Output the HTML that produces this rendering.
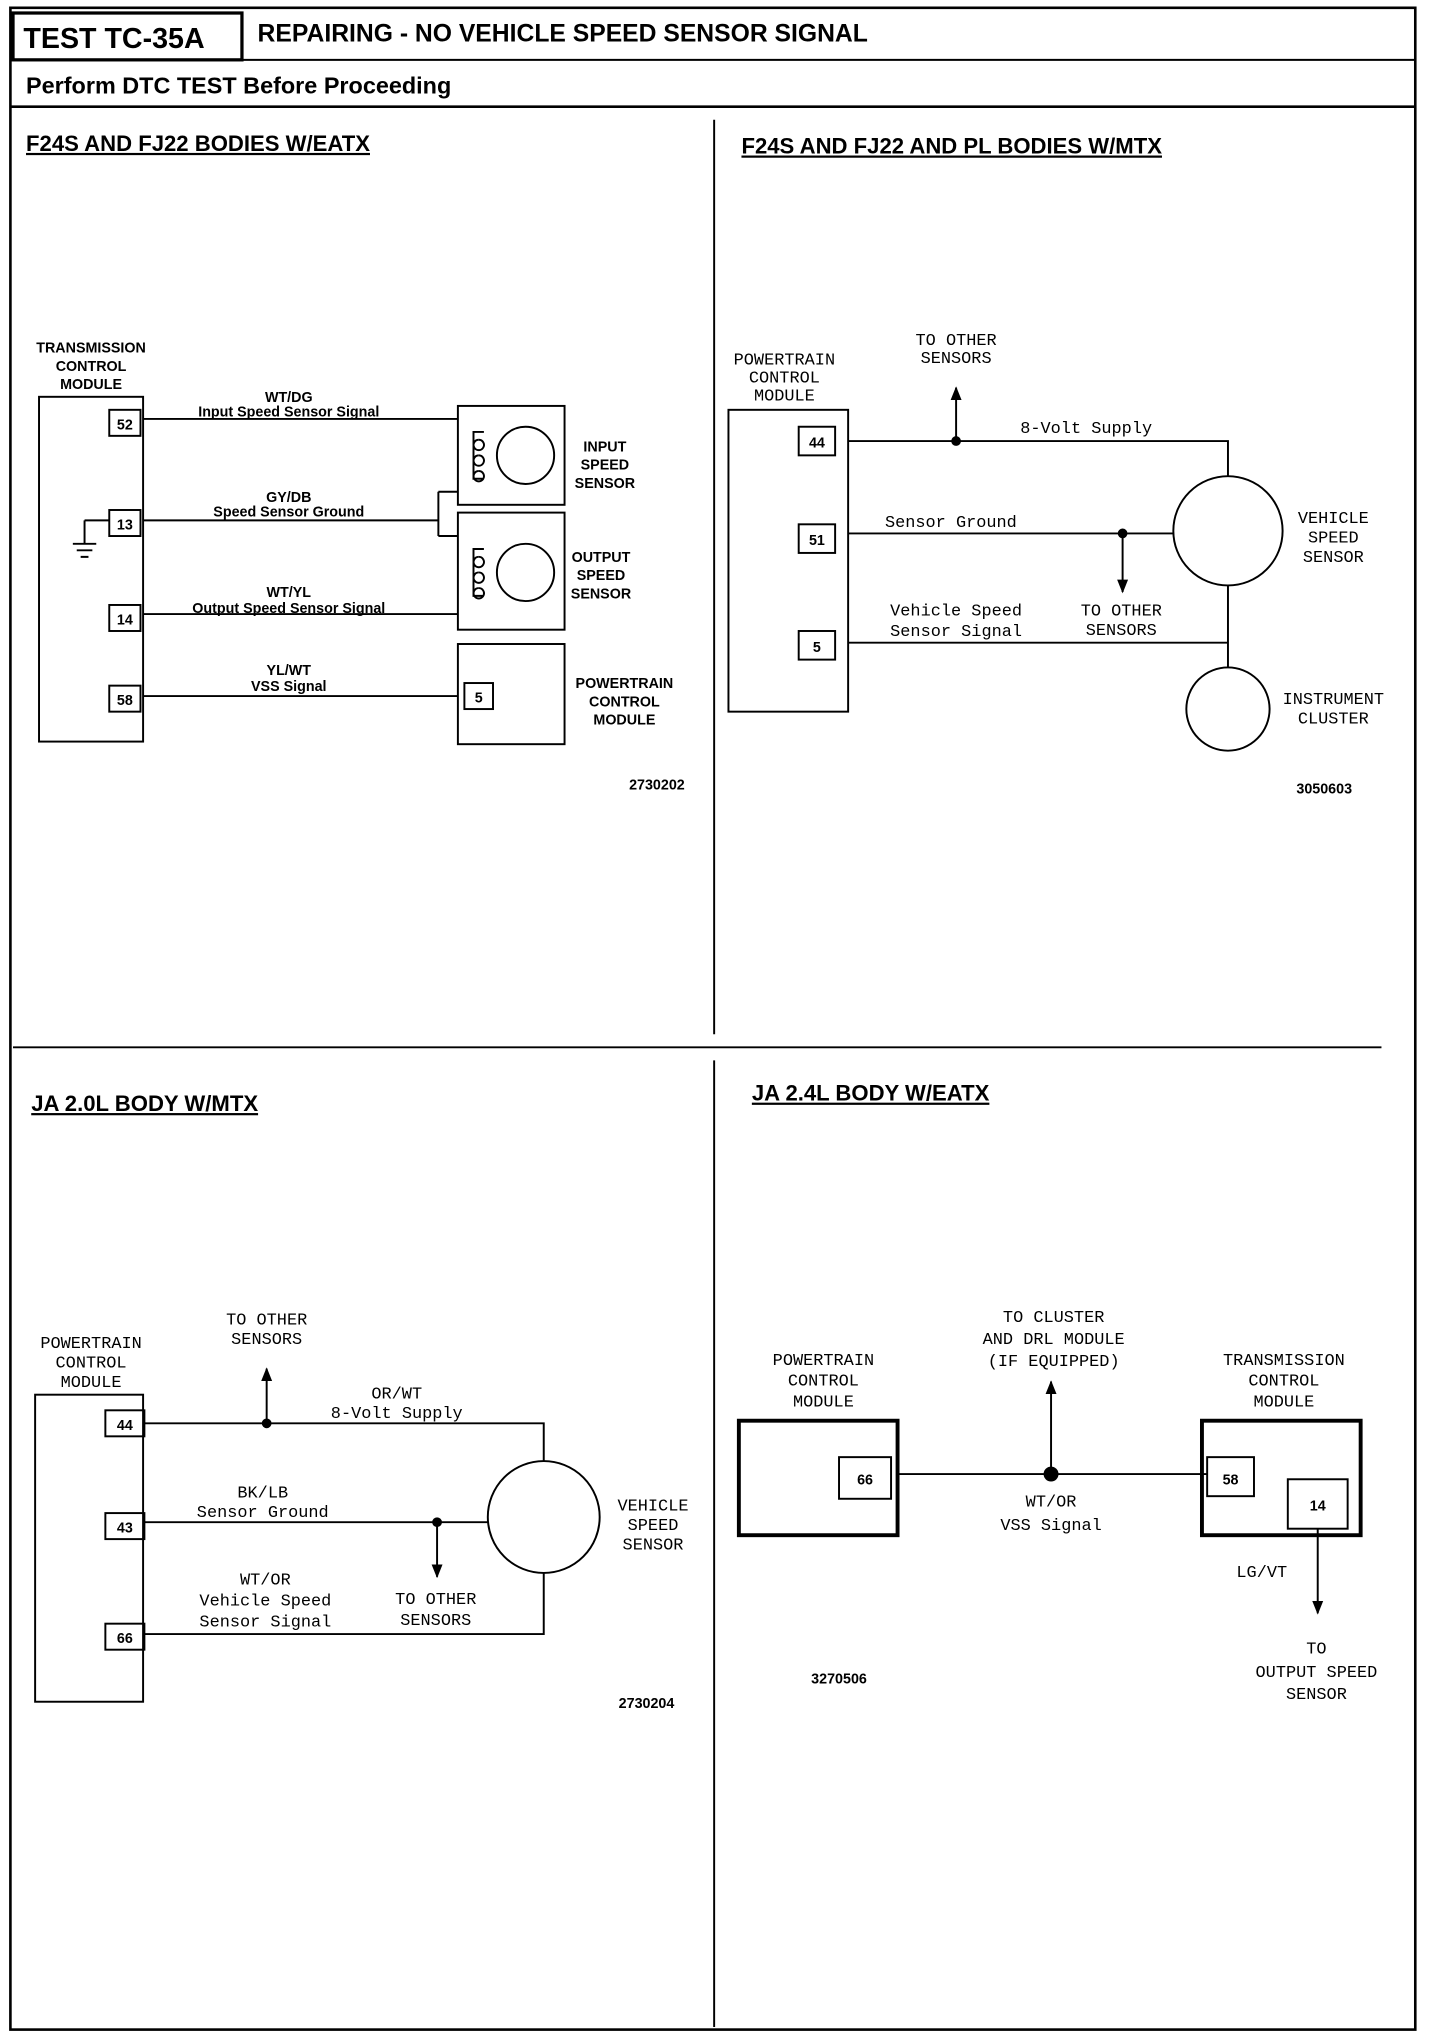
<!DOCTYPE html>
<html><head><meta charset="utf-8"><style>
html,body{margin:0;padding:0;background:#fff;}
svg{display:block}
.h{font-family:"Liberation Sans",sans-serif;font-weight:bold;fill:#000}
.t{font-family:"Liberation Mono",monospace;font-size:13px;fill:#000;text-anchor:middle}
.b{font-weight:bold}
.s{font-family:"Liberation Sans",sans-serif;font-size:11px;font-weight:bold;fill:#000;text-anchor:middle}
line,path,rect,circle{stroke:#000;fill:none;stroke-width:1.5}
</style></head><body>
<svg width="1440" height="2040" viewBox="0 0 1107 1568" preserveAspectRatio="none" xmlns="http://www.w3.org/2000/svg">
<defs><marker id="a" viewBox="0 0 10 10" refX="9" refY="5" markerWidth="7" markerHeight="9" orient="auto"><path d="M0,1 L10,5 L0,9 z" style="fill:#000;stroke:none"/></marker></defs>
<rect x="8" y="6" width="1080" height="1554" style="stroke-width:2"/>
<rect x="10" y="10" width="176" height="36" style="stroke-width:2.5"/>
<line x1="8" y1="46" x2="1088" y2="46"/>
<line x1="8" y1="82" x2="1088" y2="82" style="stroke-width:2"/>
<text class="h" x="18" y="37" font-size="22">TEST TC-35A</text>
<text class="h" x="198" y="32" font-size="19">REPAIRING - NO VEHICLE SPEED SENSOR SIGNAL</text>
<text class="h" x="20" y="72" font-size="18">Perform DTC TEST Before Proceeding</text>
<line x1="549" y1="92" x2="549" y2="795"/>
<line x1="10" y1="805" x2="1062" y2="805"/>
<line x1="549" y1="815" x2="549" y2="1558"/>
<text class="h" x="20" y="116" font-size="17" text-decoration="underline">F24S AND FJ22 BODIES W/EATX</text>
<text class="h" x="570" y="118" font-size="17" text-decoration="underline">F24S AND FJ22 AND PL BODIES W/MTX</text>
<text class="h" x="24" y="854" font-size="17" text-decoration="underline">JA 2.0L BODY W/MTX</text>
<text class="h" x="578" y="846" font-size="17" text-decoration="underline">JA 2.4L BODY W/EATX</text>

<!-- TL -->
<text class="s" x="70" y="271">TRANSMISSION</text><text class="s" x="70" y="285">CONTROL</text><text class="s" x="70" y="299">MODULE</text>
<rect x="30" y="305" width="80" height="265"/>
<rect x="84" y="315" width="24" height="20"/><text class="s" x="96" y="330">52</text>
<rect x="84" y="392" width="24" height="20"/><text class="s" x="96" y="407">13</text>
<rect x="84" y="465" width="24" height="20"/><text class="s" x="96" y="480">14</text>
<rect x="84" y="527" width="24" height="20"/><text class="s" x="96" y="542">58</text>
<line x1="110" y1="322" x2="352" y2="322"/>
<text class="s" x="222" y="309">WT/DG</text><text class="s" x="222" y="320">Input Speed Sensor Signal</text>
<line x1="110" y1="400" x2="337" y2="400"/><path d="M337,378 V412 M337,378 H352 M337,412 H352"/>
<text class="s" x="222" y="386">GY/DB</text><text class="s" x="222" y="397">Speed Sensor Ground</text>
<path d="M65,400 H84 M65,400 V418 M56,418 H74 M59,423 H71 M62,428 H68"/>
<line x1="110" y1="472" x2="352" y2="472"/>
<text class="s" x="222" y="459">WT/YL</text><text class="s" x="222" y="471">Output Speed Sensor Signal</text>
<line x1="110" y1="535" x2="352" y2="535"/>
<text class="s" x="222" y="519">YL/WT</text><text class="s" x="222" y="531">VSS Signal</text>
<rect x="352" y="312" width="82" height="76"/><rect x="352" y="394" width="82" height="90"/>
<circle cx="404" cy="350" r="22"/><circle cx="404" cy="440" r="22"/>
<path d="M372,332 h-8 v36 h8 M368,338 a4,4 0 1 0 0.1,0 M368,350 a4,4 0 1 0 0.1,0 M368,362 a4,4 0 1 0 0.1,0"/>
<path d="M372,422 h-8 v36 h8 M368,428 a4,4 0 1 0 0.1,0 M368,440 a4,4 0 1 0 0.1,0 M368,452 a4,4 0 1 0 0.1,0"/>
<text class="s" x="465" y="347">INPUT</text><text class="s" x="465" y="361">SPEED</text><text class="s" x="465" y="375">SENSOR</text>
<text class="s" x="462" y="432">OUTPUT</text><text class="s" x="462" y="446">SPEED</text><text class="s" x="462" y="460">SENSOR</text>
<rect x="352" y="495" width="82" height="77"/><rect x="357" y="525" width="22" height="20"/><text class="s" x="368" y="540">5</text>
<text class="s" x="480" y="529">POWERTRAIN</text><text class="s" x="480" y="543">CONTROL</text><text class="s" x="480" y="557">MODULE</text>
<text class="s" x="505" y="607">2730202</text>

<!-- TR -->
<text class="t" x="603" y="280">POWERTRAIN</text><text class="t" x="603" y="294">CONTROL</text><text class="t" x="603" y="308">MODULE</text>
<rect x="560" y="315" width="92" height="232"/>
<rect x="614" y="328" width="28" height="22"/><text class="s" x="628" y="344">44</text>
<rect x="614" y="403" width="28" height="22"/><text class="s" x="628" y="419">51</text>
<rect x="614" y="485" width="28" height="22"/><text class="s" x="628" y="501">5</text>
<path d="M652,339 H944 V366"/><circle cx="735" cy="339" r="3" style="fill:#000"/>
<line x1="735" y1="339" x2="735" y2="298" marker-end="url(#a)"/>
<text class="t" x="735" y="265">TO OTHER</text><text class="t" x="735" y="279">SENSORS</text>
<text class="t" x="835" y="333">8-Volt Supply</text>
<circle cx="944" cy="408" r="42"/>
<line x1="652" y1="410" x2="902" y2="410"/><circle cx="863" cy="410" r="3" style="fill:#000"/>
<line x1="863" y1="410" x2="863" y2="455" marker-end="url(#a)"/>
<text class="t" x="731" y="405">Sensor Ground</text>
<text class="t" x="862" y="473">TO OTHER</text><text class="t" x="862" y="488">SENSORS</text>
<path d="M652,494 H944 M944,450 V513"/>
<text class="t" x="735" y="473">Vehicle Speed</text><text class="t" x="735" y="489">Sensor Signal</text>
<circle cx="944" cy="545" r="32"/>
<text class="t" x="1025" y="402">VEHICLE</text><text class="t" x="1025" y="417">SPEED</text><text class="t" x="1025" y="432">SENSOR</text>
<text class="t" x="1025" y="541">INSTRUMENT</text><text class="t" x="1025" y="556">CLUSTER</text>
<text class="s" x="1018" y="610">3050603</text>

<!-- BL -->
<text class="t" x="70" y="1036">POWERTRAIN</text><text class="t" x="70" y="1051">CONTROL</text><text class="t" x="70" y="1066">MODULE</text>
<rect x="27" y="1072" width="83" height="236"/>
<rect x="81" y="1084" width="30" height="20"/><text class="s" x="96" y="1099">44</text>
<rect x="81" y="1163" width="30" height="20"/><text class="s" x="96" y="1178">43</text>
<rect x="81" y="1248" width="30" height="20"/><text class="s" x="96" y="1263">66</text>
<path d="M111,1094 H418 V1123"/><circle cx="205" cy="1094" r="3" style="fill:#000"/>
<line x1="205" y1="1094" x2="205" y2="1052" marker-end="url(#a)"/>
<text class="t" x="205" y="1018">TO OTHER</text><text class="t" x="205" y="1033">SENSORS</text>
<text class="t" x="305" y="1075">OR/WT</text><text class="t" x="305" y="1090">8-Volt Supply</text>
<circle cx="418" cy="1166" r="43"/>
<line x1="111" y1="1170" x2="375" y2="1170"/><circle cx="336" cy="1170" r="3" style="fill:#000"/>
<line x1="336" y1="1170" x2="336" y2="1212" marker-end="url(#a)"/>
<text class="t" x="202" y="1151">BK/LB</text><text class="t" x="202" y="1166">Sensor Ground</text>
<text class="t" x="335" y="1233">TO OTHER</text><text class="t" x="335" y="1249">SENSORS</text>
<path d="M111,1256 H418 V1209"/>
<text class="t" x="204" y="1218">WT/OR</text><text class="t" x="204" y="1234">Vehicle Speed</text><text class="t" x="204" y="1250">Sensor Signal</text>
<text class="t" x="502" y="1161">VEHICLE</text><text class="t" x="502" y="1176">SPEED</text><text class="t" x="502" y="1191">SENSOR</text>
<text class="s" x="497" y="1313">2730204</text>

<!-- BR -->
<text class="t" x="633" y="1049" font-size="15">POWERTRAIN</text><text class="t" x="633" y="1065" font-size="15">CONTROL</text><text class="t" x="633" y="1081" font-size="15">MODULE</text>
<rect x="568" y="1092" width="122" height="88" style="stroke-width:3"/>
<rect x="645" y="1120" width="40" height="32"/><text class="s" x="665" y="1141" font-size="14">66</text>
<text class="t" x="987" y="1049" font-size="15">TRANSMISSION</text><text class="t" x="987" y="1065" font-size="15">CONTROL</text><text class="t" x="987" y="1081" font-size="15">MODULE</text>
<rect x="924" y="1092" width="122" height="88" style="stroke-width:3"/>
<rect x="928" y="1120" width="36" height="30"/><text class="s" x="946" y="1141" font-size="14">58</text>
<rect x="990" y="1137" width="46" height="38"/><text class="s" x="1013" y="1161" font-size="14">14</text>
<line x1="690" y1="1133" x2="928" y2="1133"/><circle cx="808" cy="1133" r="5" style="fill:#000"/>
<line x1="808" y1="1133" x2="808" y2="1062" marker-end="url(#a)"/>
<text class="t" x="810" y="1016" font-size="15">TO CLUSTER</text><text class="t" x="810" y="1033" font-size="15">AND DRL MODULE</text><text class="t" x="810" y="1050" font-size="15">(IF EQUIPPED)</text>
<text class="t" x="808" y="1158" font-size="15">WT/OR</text><text class="t" x="808" y="1176" font-size="15">VSS Signal</text>
<line x1="1013" y1="1175" x2="1013" y2="1240" marker-end="url(#a)"/>
<text class="t" x="970" y="1212" font-size="15">LG/VT</text>
<text class="t" x="1012" y="1271" font-size="15">TO</text><text class="t" x="1012" y="1289" font-size="15">OUTPUT SPEED</text><text class="t" x="1012" y="1306" font-size="15">SENSOR</text>
<text class="s" x="645" y="1294">3270506</text>
</svg>
</body></html>
